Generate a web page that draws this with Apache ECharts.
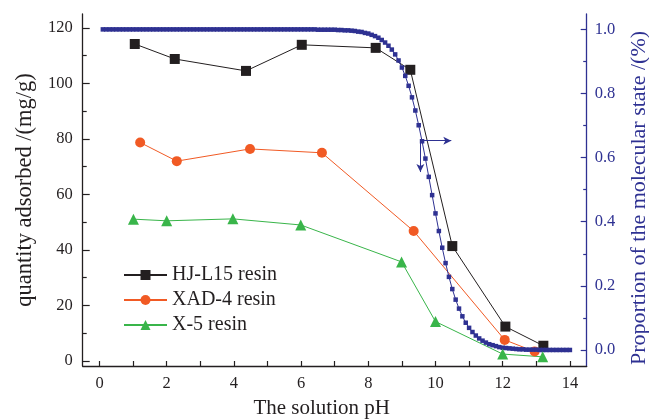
<!DOCTYPE html>
<html><head><meta charset="utf-8">
<script src="https://cdn.jsdelivr.net/npm/echarts@6/dist/echarts.min.js"></script>
<style>html,body{margin:0;padding:0;background:#fff}#c{width:649px;height:419px}</style>
</head><body><div id="c"></div>
<script>
// HJ-L15 resin
const hjPH = [1.05, 2.24, 4.36, 6.02, 8.22, 9.25, 10.5, 12.08, 13.21];
const hjQ  = [114.2, 108.8, 104.5, 113.9, 112.8, 104.9, 41.4, 12.4, 5.5];
// XAD-4 resin
const xadPH = [1.21, 2.30, 4.48, 6.62, 9.35, 12.06, 12.95];
const xadQ  = [78.7, 72.0, 76.4, 75.0, 46.8, 7.6, 3.4];
// X-5 resin
const x5PH = [1.01, 2.0, 3.97, 5.99, 8.99, 10.0, 12.0, 13.19];
const x5Q  = [51.1, 50.5, 51.2, 49.0, 35.7, 14.2, 2.5, 1.5];
// Proportion of molecular state (right axis)
const curvePH = [0.1,0.2,0.3,0.4,0.5,0.6,0.7,0.8,0.9,1.0,
  1.1,1.2,1.3,1.4,1.5,1.6,1.7,1.8,1.9,2.0,
  2.1,2.2,2.3,2.4,2.5,2.6,2.7,2.8,2.9,3.0,
  3.1,3.2,3.3,3.4,3.5,3.6,3.7,3.8,3.9,4.0,
  4.1,4.2,4.3,4.4,4.5,4.6,4.7,4.8,4.9,5.0,
  5.1,5.2,5.3,5.4,5.5,5.6,5.7,5.8,5.9,6.0,
  6.1,6.2,6.3,6.4,6.5,6.6,6.7,6.8,6.9,7.0,
  7.1,7.2,7.3,7.4,7.5,7.6,7.7,7.8,7.9,8.0,
  8.1,8.2,8.3,8.4,8.5,8.6,8.7,8.8,8.9,9.0,
  9.1,9.2,9.3,9.4,9.5,9.6,9.7,9.8,9.9,10.0,
  10.1,10.2,10.3,10.4,10.5,10.6,10.7,10.8,10.9,11.0,
  11.1,11.2,11.3,11.4,11.5,11.6,11.7,11.8,11.9,12.0,
  12.1,12.2,12.3,12.4,12.5,12.6,12.7,12.8,12.9,13.0,
  13.1,13.2,13.3,13.4,13.5,13.6,13.7,13.8,13.9,14.0];
const curveFrac = [1,1,1,1,1,1,1,1,1,1,
  1,1,1,1,1,1,1,1,1,1,
  1,1,1,1,1,1,1,1,1,1,
  1,1,1,1,1,1,1,1,1,1,
  1,1,1,1,1,1,1,1,1,1,
  1,1,1,1,1,1,1,1,1,1,
  1,1,1,1,0.999,0.999,0.999,0.999,0.999,0.999,
  0.998,0.998,0.997,0.997,0.996,0.995,0.993,0.992,0.989,0.987,
  0.983,0.979,0.974,0.967,0.959,0.949,0.937,0.922,0.903,0.881,
  0.855,0.824,0.788,0.747,0.701,0.651,0.597,0.540,0.483,0.426,
  0.371,0.319,0.271,0.228,0.190,0.157,0.129,0.105,0.085,0.069,
  0.056,0.045,0.036,0.029,0.023,0.018,0.015,0.012,0.009,0.007,
  0.006,0.005,0.004,0.003,0.002,0.002,0.001,0.001,0.001,0.001,
  0,0,0,0,0,0,0,0,0,0];
// Tick labels / positions
const xLabelVals = [0, 2, 4, 6, 8, 10, 12, 14];
const xTickVals = [0,1,2,3,4,5,6,7,8,9,10,11,12,13,14];
const leftLabelVals = [0, 20, 40, 60, 80, 100, 120];
const leftMinorVals = [10, 30, 50, 70, 90, 110];
const rightLabelVals = [0, 0.2, 0.4, 0.6, 0.8, 1.0];
const rightMinorVals = [0.1, 0.3, 0.5, 0.7, 0.9];
// Annotation arrows (pH, proportion)
const arrowRight = [[9.58, 0.653], [10.47, 0.653]];
const arrowDown = [[9.55, 0.653], [9.55, 0.555]];

const FONT = '"Liberation Serif", "Times New Roman", serif';
const BLACK = '#231f20', BLUE = '#2e3192', ORANGE = '#f15a24', GREEN = '#39b54a';
const zip = (a, b) => a.map((v, i) => [v, b[i]]);

const X_MIN = -0.5, X_MAX = 14.5, L_MIN = -1.8, L_MAX = 125, R_MIN = -0.05, R_MAX = 1.048;

const chart = echarts.init(document.getElementById('c'), null, {renderer: 'canvas'});
chart.setOption({
  animation: false,
  backgroundColor: '#fff',
  grid: {left: 82.7, right: 62.3, top: 14, bottom: 53, containLabel: false, outerBoundsMode: 'none'},
  legend: {
    orient: 'vertical', left: 118, top: 260,
    itemWidth: 43, itemHeight: 12.5, itemGap: 5,
    data: ['HJ-L15 resin', 'XAD-4 resin', 'X-5 resin'],
    textStyle: {fontFamily: FONT, fontSize: 20, color: BLACK}
  },
  xAxis: [{
    type: 'value', min: X_MIN, max: X_MAX, position: 'bottom',
    name: 'The solution pH', nameLocation: 'middle', nameGap: 32,
    nameTextStyle: {fontFamily: FONT, fontSize: 21, color: BLACK, padding: [0, 26, 0, 0]},
    axisLine: {show: true, onZero: false, lineStyle: {color: BLACK, width: 1.3}},
    axisTick: {show: true, inside: true, length: 5, customValues: xTickVals, lineStyle: {color: BLACK, width: 1.2}},
    axisLabel: {customValues: xLabelVals, fontFamily: FONT, fontSize: 16.5, color: BLACK, margin: 9},
    splitLine: {show: false}
  }],
  yAxis: [{
    type: 'value', min: L_MIN, max: L_MAX, position: 'left',
    name: 'quantity adsorbed /(mg/g)', nameLocation: 'middle', nameRotate: 90, nameGap: 43,
    nameTextStyle: {fontFamily: FONT, fontSize: 22.5, color: BLACK},
    axisLine: {show: true, onZero: false, lineStyle: {color: BLACK, width: 1.3}},
    axisTick: {show: true, inside: true, length: 7, customValues: leftLabelVals, lineStyle: {color: BLACK, width: 1.2}},
    axisLabel: {customValues: leftLabelVals, fontFamily: FONT, fontSize: 16.5, color: BLACK, margin: 10},
    splitLine: {show: false}
  }, {
    type: 'value', min: R_MIN, max: R_MAX, position: 'right',
    name: 'Proportion of the molecular state /(%)', nameLocation: 'middle', nameRotate: 90, nameGap: 42,
    nameTextStyle: {fontFamily: FONT, fontSize: 22, color: BLUE, padding: [0, 16, 0, 0]},
    axisLine: {show: true, onZero: false, lineStyle: {color: BLUE, width: 1.3}},
    axisTick: {show: true, inside: true, length: 6, customValues: rightLabelVals, lineStyle: {color: BLUE, width: 1.2}},
    axisLabel: {customValues: rightLabelVals, fontFamily: FONT, fontSize: 16.5, color: BLUE, margin: 8,
      formatter: v => v.toFixed(1)},
    splitLine: {show: false}
  }, {
    type: 'value', min: L_MIN, max: L_MAX, position: 'left', offset: 0,
    axisLine: {show: false, onZero: false}, axisLabel: {show: false}, splitLine: {show: false},
    axisTick: {show: true, inside: true, length: 4, customValues: leftMinorVals, lineStyle: {color: BLACK, width: 1.2}}
  }, {
    type: 'value', min: R_MIN, max: R_MAX, position: 'right', offset: 0,
    axisLine: {show: false, onZero: false}, axisLabel: {show: false}, splitLine: {show: false},
    axisTick: {show: true, inside: true, length: 3.5, customValues: rightMinorVals, lineStyle: {color: BLUE, width: 1.2}}
  }],
  series: [{
    name: 'HJ-L15 resin', type: 'line', yAxisIndex: 0,
    data: zip(hjPH, hjQ), symbol: 'rect', symbolSize: 10,
    itemStyle: {color: BLACK}, lineStyle: {color: BLACK, width: 1}
  }, {
    name: 'XAD-4 resin', type: 'line', yAxisIndex: 0,
    data: zip(xadPH, xadQ), symbol: 'circle', symbolSize: 10,
    itemStyle: {color: ORANGE}, lineStyle: {color: ORANGE, width: 1}
  }, {
    name: 'molecular', type: 'line', yAxisIndex: 1,
    data: zip(curvePH, curveFrac), symbol: 'rect', symbolSize: 4.5, showAllSymbol: true,
    itemStyle: {color: BLUE}, lineStyle: {color: BLUE, width: 1},
    markLine: {
      silent: true, symbol: ['none', 'arrow'], symbolSize: [6, 8],
      label: {show: false},
      lineStyle: {color: BLUE, width: 1, type: 'solid'},
      data: [
        [{coord: arrowRight[0]}, {coord: arrowRight[1]}],
        [{coord: arrowDown[0]}, {coord: arrowDown[1]}]
      ]
    }
  }, {
    name: 'X-5 resin', type: 'line', yAxisIndex: 0,
    data: zip(x5PH, x5Q), symbol: 'triangle', symbolSize: 11,
    itemStyle: {color: GREEN}, lineStyle: {color: GREEN, width: 1}
  }]
});
</script></body></html>
